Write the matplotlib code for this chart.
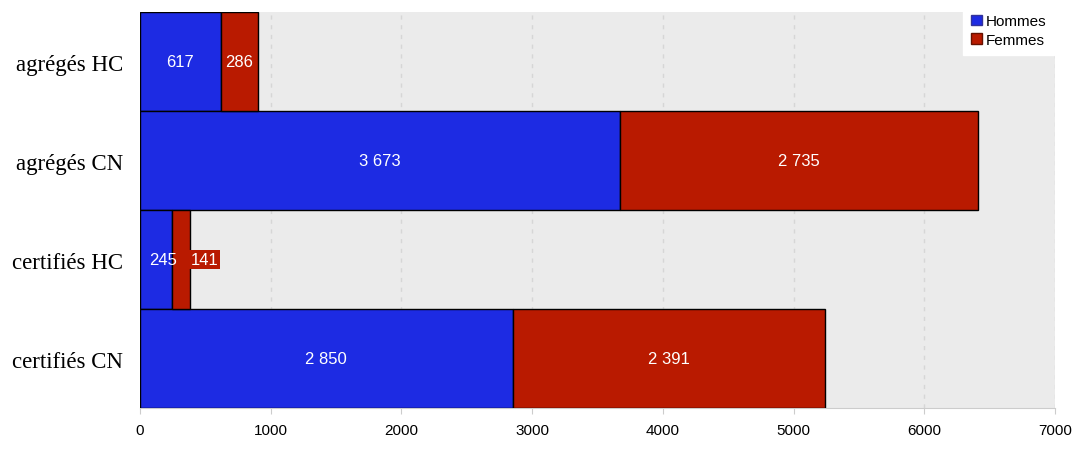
import matplotlib
matplotlib.use("Agg")
import matplotlib.pyplot as plt
from matplotlib.patches import Patch
from matplotlib.transforms import ScaledTranslation

categories = ["agrégés HC", "agrégés CN", "certifiés HC", "certifiés CN"]
hommes = [617, 3673, 245, 2850]
femmes = [286, 2735, 141, 2391]
xticks = [0, 1000, 2000, 3000, 4000, 5000, 6000, 7000]

blue = "#1d2be3"
red = "#b91a00"


def fmt(v):
    # French thousands separator
    return f"{v:,}".replace(",", " ")


def main():
    fig = plt.figure(figsize=(10.73, 4.52), dpi=100)
    ax = fig.add_axes([0.1305, 0.0951, 0.8527, 0.876])
    ax.set_facecolor("#ebebeb")

    y = list(range(len(categories)))
    ax.barh(y, hommes, height=1.0, color=blue, edgecolor="black", linewidth=1.0, zorder=3)
    ax.barh(y, femmes, left=hommes, height=1.0, color=red, edgecolor="black", linewidth=1.0, zorder=3)

    for i, (h, f) in enumerate(zip(hommes, femmes)):
        lab = dict(color="white", fontsize=12, family="Liberation Sans", va="center", zorder=5)
        if h > 400:
            ax.text(h / 2, i, fmt(h), ha="center", **lab)
        else:
            ax.text(h / 2 + 50, i, fmt(h), ha="center", **lab)
        if f > 200:
            ax.text(h + f / 2, i, fmt(f), ha="center", **lab)
        else:
            ax.text(h + f, i, fmt(f), ha="left",
                    bbox=dict(boxstyle="square,pad=0.1", fc=red, ec="none"), **lab)

    ax.set_xlim(0, 7000)
    ax.set_ylim(3.5, -0.5)
    ax.set_xticks(xticks)
    ax.set_xticklabels([str(t) for t in xticks], family="Liberation Sans", fontsize=11)
    ax.set_yticks(y)
    ax.set_yticklabels(categories, family="Liberation Serif", fontsize=16.5)
    shift = ScaledTranslation(0, 4 / 100, fig.dpi_scale_trans)
    for t in ax.get_yticklabels():
        t.set_transform(t.get_transform() + shift)
    ax.tick_params(axis="x", length=4, color="#cccccc", pad=7)
    ax.tick_params(axis="y", length=0, pad=12)
    ax.xaxis.grid(True, linestyle=(0, (3, 4)), color="#d6d6d6", linewidth=1, zorder=0)
    ax.set_axisbelow(True)
    for s in ["top", "right", "left"]:
        ax.spines[s].set_visible(False)
    ax.spines["bottom"].set_color("#cccccc")

    handles = [Patch(facecolor=blue, edgecolor="#333399", label="Hommes"),
               Patch(facecolor=red, edgecolor="#661100", label="Femmes")]
    fig.legend(handles=handles, loc="upper right", bbox_to_anchor=(1062 / 1073, 1.0),
               frameon=True, fancybox=False, edgecolor="white", facecolor="white",
               framealpha=1, prop={"family": "Liberation Sans", "size": 11},
               handlelength=0.7, handleheight=0.7, handletextpad=0.3,
               labelspacing=0.3, borderpad=0.5)

    fig.savefig("out.png", dpi=100)


if __name__ == "__main__":
    main()
